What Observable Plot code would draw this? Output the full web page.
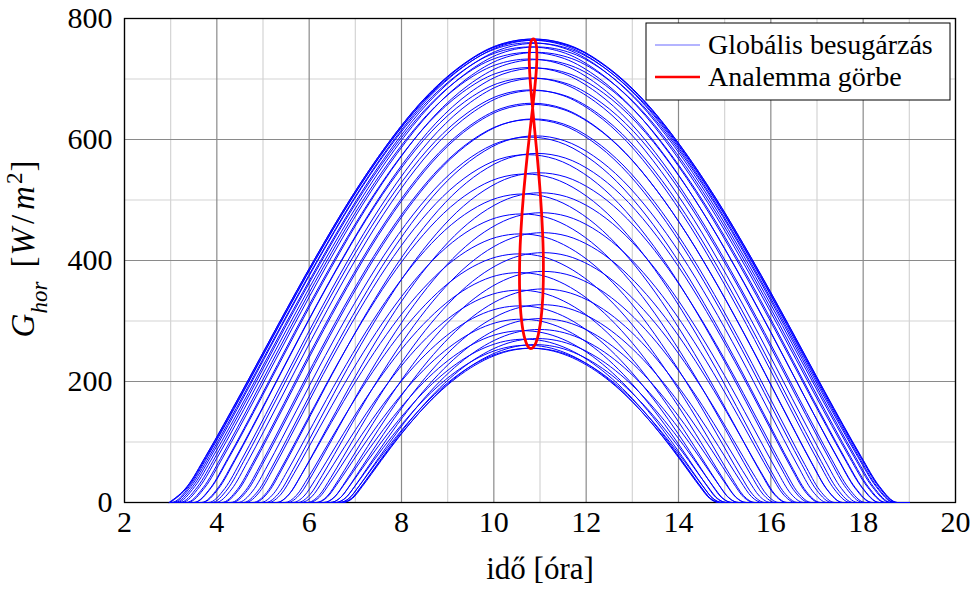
<!DOCTYPE html>
<html><head><meta charset="utf-8">
<script src="https://cdn.jsdelivr.net/npm/d3@7"></script>
<script src="https://cdn.jsdelivr.net/npm/@observablehq/plot@0.6"></script>
<style>body{margin:0;background:#fff} svg{display:block} svg text{font-family:"Liberation Serif","DejaVu Serif",serif !important}</style>
</head><body><div id="chart"></div>
<script>
// axis ticks
const xMajorTicks = [2, 4, 6, 8, 10, 12, 14, 16, 18, 20];
const xMinorTicks = [3, 5, 7, 9, 11, 13, 15, 17, 19];
const yMajorTicks = [0, 200, 400, 600, 800];
const yMinorTicks = [100, 300, 500, 700];
const timeStart = 3, timeEnd = 19;

// one curve per week: solar noon [h], peak irradiance [W/m2], half day length [h]
const weekNoon = [10.892,10.942,10.986,11.022,11.050,11.067,11.073,11.070,11.056,11.034,11.005,10.971,10.934,10.897,10.862,10.830,10.803,10.784,10.772,10.767,10.771,10.782,10.799,10.820,10.844,10.868,10.891,10.911,10.925,10.932,10.932,10.923,10.906,10.881,10.849,10.811,10.769,10.726,10.684,10.644,10.610,10.583,10.564,10.556,10.559,10.573,10.597,10.632,10.674,10.723,10.776,10.830];
const weekPeak = [261,271,286,304,327,353,382,413,446,479,512,545,577,606,634,660,682,702,719,733,744,753,760,764,766,766,764,759,753,744,732,718,701,681,658,633,604,575,543,510,477,444,411,380,351,325,303,284,270,260,255,255];
const weekHalfDay = [4.160,4.229,4.325,4.447,4.591,4.751,4.926,5.111,5.305,5.504,5.707,5.912,6.117,6.322,6.525,6.723,6.915,7.099,7.273,7.431,7.572,7.691,7.784,7.848,7.879,7.878,7.844,7.777,7.683,7.563,7.421,7.261,7.087,6.903,6.710,6.511,6.309,6.104,5.899,5.694,5.492,5.293,5.097,4.913,4.739,4.579,4.437,4.317,4.223,4.157,4.123,4.122];

const profileU = [0, 0.05, 0.1, 0.15, 0.2, 0.3, 0.4, 0.5, 0.6, 0.7, 0.8, 0.9, 1];
const summerProfile = [0, 0.035, 0.099, 0.168, 0.239, 0.384, 0.525, 0.657, 0.773, 0.870, 0.941, 0.986, 1];
const winterProfile = [0, 0.026, 0.100, 0.183, 0.267, 0.428, 0.573, 0.700, 0.806, 0.890, 0.951, 0.988, 1];

const legendLabels = ["Globális besugárzás", "Analemma görbe"];

// build table
const hMin = d3.min(weekHalfDay), hMax = d3.max(weekHalfDay);
const blueRows = [];
weekNoon.forEach((noon, k) => {
  const H = weekHalfDay[k], peak = weekPeak[k];
  const w = (H - hMin) / (hMax - hMin);
  const prof = profileU.map((u, i) => w * summerProfile[i] + (1 - w) * winterProfile[i]);
  if (noon - H > timeStart) blueRows.push({week: k, t: timeStart, g: 0});
  profileU.forEach((u, i) => blueRows.push({week: k, t: noon - H * (1 - u), g: peak * prof[i]}));
  for (let i = profileU.length - 2; i >= 0; i--) blueRows.push({week: k, t: noon + H * (1 - profileU[i]), g: peak * prof[i]});
  if (noon + H < timeEnd) blueRows.push({week: k, t: timeEnd, g: 0});
});
const analemmaRows = weekNoon.map((n, k) => ({noon: n, peak: weekPeak[k]}));

const font = "Liberation Serif, DejaVu Serif, serif";
const chart = Plot.plot({
  width: 978, height: 589,
  marginLeft: 124, marginRight: 23, marginTop: 18, marginBottom: 87,
  style: {fontFamily: font, fontSize: "30px", background: "white", overflow: "visible", color: "black"},
  x: {domain: [2, 20]},
  y: {domain: [0, 800]},
  marks: [
    Plot.ruleX(xMinorTicks, {stroke: "#d4d4d4", strokeWidth: 1.2}),
    Plot.ruleY(yMinorTicks, {stroke: "#d4d4d4", strokeWidth: 1.2}),
    Plot.ruleX(xMajorTicks, {stroke: "#8a8a8a", strokeWidth: 1.2}),
    Plot.ruleY(yMajorTicks, {stroke: "#8a8a8a", strokeWidth: 1.2}),
    Plot.frame({stroke: "black", strokeWidth: 1.3}),
    Plot.line(blueRows, {x: "t", y: "g", z: "week", stroke: "#0000ff", strokeWidth: 1, curve: "monotone-x"}),
    Plot.line(analemmaRows, {x: "noon", y: "peak", stroke: "#ff0000", strokeWidth: 2.8, curve: "catmull-rom-closed"}),
    Plot.axisX({ticks: xMajorTicks, tickSize: 0, tickPadding: 8, label: null, tickFormat: d => String(d)}),
    Plot.axisY({ticks: yMajorTicks, tickSize: 0, tickPadding: 12, label: null, tickFormat: d => String(d)})
  ]
});
document.getElementById("chart").appendChild(chart);

const svg = d3.select(chart);
// x label
svg.append("text").attr("x", 540).attr("y", 579).attr("text-anchor", "middle")
  .attr("font-size", 31).text("idő [óra]");
// y label
const yl = svg.append("text").attr("transform", "translate(34,249) rotate(-90)")
  .attr("text-anchor", "middle").attr("font-size", 33);
yl.append("tspan").attr("font-style", "italic").text("G");
yl.append("tspan").attr("font-style", "italic").attr("font-size", 23).attr("baseline-shift", "sub").text("hor");
yl.append("tspan").attr("dx", 14).text("[");
yl.append("tspan").attr("font-style", "italic").attr("dx", 1).text("W");
yl.append("tspan").attr("dx", 4).text("/");
yl.append("tspan").attr("font-style", "italic").attr("dx", 5).text("m");
yl.append("tspan").attr("font-size", 23).attr("dx", 2).attr("baseline-shift", "super").text("2");
yl.append("tspan").attr("dx", 1).text("]");
// legend
const lg = svg.append("g");
lg.append("rect").attr("x", 646).attr("y", 23).attr("width", 304).attr("height", 77)
  .attr("fill", "white").attr("stroke", "black").attr("stroke-width", 1);
lg.append("line").attr("x1", 655).attr("x2", 700).attr("y1", 45).attr("y2", 45).attr("stroke", "#6b6bff").attr("stroke-width", 1.2);
lg.append("line").attr("x1", 655).attr("x2", 700).attr("y1", 77).attr("y2", 77).attr("stroke", "#ff0000").attr("stroke-width", 2.6);
lg.append("text").attr("x", 708).attr("y", 54).attr("text-anchor", "start").attr("font-size", 28).text(legendLabels[0]);
lg.append("text").attr("x", 708).attr("y", 86).attr("text-anchor", "start").attr("font-size", 28).text(legendLabels[1]);
</script>
</body></html>
